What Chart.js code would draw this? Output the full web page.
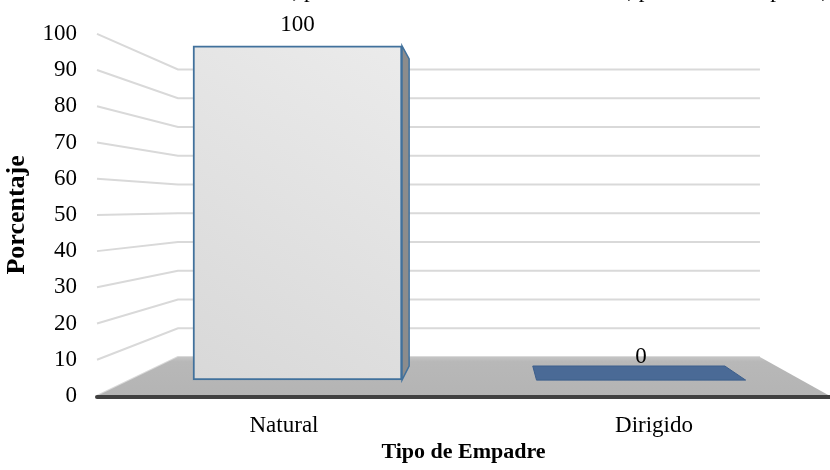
<!DOCTYPE html>
<html>
<head>
<meta charset="utf-8">
<script src="https://cdn.jsdelivr.net/npm/chart.js@4.4.1/dist/chart.umd.min.js"></script>
<style>
  html, body { margin: 0; padding: 0; background: #ffffff; }
  canvas { display: block; }
</style>
</head>
<body>
<canvas id="chart" width="830" height="470"></canvas>
<script>
// Datos del gráfico
const CATEGORIES = ['Natural', 'Dirigido'];
const VALUES = [100, 0];
const Y_TICKS = [0, 10, 20, 30, 40, 50, 60, 70, 80, 90, 100];
const CUT_TITLE = 'durante el Gran Mandato, provincia de Cotacachi – Imbabura, período de empadre, 2016';

const SERIF = '"Liberation Serif", "Times New Roman", serif';

// Perspectiva 3D (punto de fuga y profundidades)
const VP = { x: 490, y: 207 };
const WALL_DEPTH = 0.206;
const BAR_DEPTH = 0.081;
const BORDER_BLUE = '#41719c';

function project(p, k) {
    return { x: p.x + (VP.x - p.x) * k, y: p.y + (VP.y - p.y) * k };
}

function poly(ctx, pts) {
    ctx.beginPath();
    ctx.moveTo(pts[0].x, pts[0].y);
    for (let i = 1; i < pts.length; i++) ctx.lineTo(pts[i].x, pts[i].y);
    ctx.closePath();
}

const box3d = {
    id: 'box3d',
    beforeDatasetsDraw(chart) {
        const { ctx, chartArea: a, scales } = chart;
        const y = scales.y;
        ctx.save();

        // líneas de la pared y del fondo
        ctx.strokeStyle = '#d9d9d9';
        ctx.lineWidth = 2;
        Y_TICKS.forEach(v => {
            const fy = y.getPixelForValue(v);
            const b = project({ x: a.left, y: fy }, WALL_DEPTH);
            const br = project({ x: a.right, y: fy }, WALL_DEPTH);
            ctx.beginPath();
            ctx.moveTo(a.left, fy);
            ctx.lineTo(b.x, b.y);
            ctx.lineTo(br.x, br.y);
            ctx.stroke();
        });

        // piso
        const y0 = y.getPixelForValue(0);
        const fl = { x: a.left, y: y0 }, fr = { x: a.right, y: y0 };
        const bl = project(fl, WALL_DEPTH), br = project(fr, WALL_DEPTH);
        const g = ctx.createLinearGradient(0, bl.y, 0, y0);
        g.addColorStop(0, '#c4c4c4');
        g.addColorStop(0.12, '#b8b8b8');
        g.addColorStop(1, '#b4b4b4');
        ctx.fillStyle = g;
        poly(ctx, [fl, fr, br, bl]);
        ctx.fill();

        // borde frontal del piso
        ctx.strokeStyle = '#404040';
        ctx.lineWidth = 4;
        ctx.lineCap = 'round';
        ctx.beginPath();
        ctx.moveTo(a.left, y0 + 1);
        ctx.lineTo(a.right, y0 + 1);
        ctx.stroke();
        ctx.restore();
    },
    afterDatasetsDraw(chart) {
        const { ctx } = chart;
        const meta = chart.getDatasetMeta(0);
        ctx.save();
        meta.data.forEach((el, i) => {
            const p = el.getProps(['x', 'y', 'base', 'width'], true);
            const left = p.x - p.width / 2, right = p.x + p.width / 2;
            const top = p.y, base = p.base;
            const tr = project({ x: right, y: top }, BAR_DEPTH);
            const tl = project({ x: left, y: top }, BAR_DEPTH);

            // cara lateral
            if (base - top > 1) {
                const brp = project({ x: right, y: base }, BAR_DEPTH);
                poly(ctx, [{ x: right, y: top }, tr, brp, { x: right, y: base }]);
                ctx.fillStyle = '#8c8c8c';
                ctx.fill();
                ctx.strokeStyle = BORDER_BLUE;
                ctx.lineWidth = 1.5;
                ctx.stroke();
            }
            // cara superior (solo visible bajo el horizonte)
            let labelY = top - 15;
            if (top > VP.y) {
                poly(ctx, [{ x: left, y: top }, { x: right, y: top }, tr, tl]);
                ctx.fillStyle = '#4a6a96';
                ctx.fill();
                ctx.strokeStyle = '#3d5f8c';
                ctx.lineWidth = 1;
                ctx.stroke();
                labelY = tr.y - 3;
            }

            // etiqueta de valor
            ctx.fillStyle = '#000000';
            ctx.font = '23px ' + SERIF;
            ctx.textAlign = 'center';
            ctx.textBaseline = 'alphabetic';
            ctx.fillText(String(VALUES[i]), p.x, labelY);
        });
        ctx.restore();
    },
    afterDraw(chart) {
        // título cortado en el borde superior
        const { ctx } = chart;
        ctx.save();
        ctx.fillStyle = '#000000';
        ctx.font = '23px ' + SERIF;
        ctx.textAlign = 'left';
        ctx.textBaseline = 'alphabetic';
        ctx.fillText(CUT_TITLE, 62, -3);
        ctx.restore();
    }
};

Chart.defaults.font.family = SERIF;
Chart.defaults.color = '#000000';

const barData = CATEGORIES.map((c, i) => ({ x: i, y: VALUES[i] }));

new Chart(document.getElementById('chart').getContext('2d'), {
    type: 'bar',
    data: {
        datasets: [{
            data: barData,
            xAxisID: 'xb',
            yAxisID: 'yb',
            barThickness: 209,
            backgroundColor: function(c) {
                if (c.dataIndex === 1) return '#4a6a96';
                const a = c.chart.chartArea;
                if (!a) return '#e2e2e2';
                const g = c.chart.ctx.createLinearGradient(190, 380, 400, 45);
                g.addColorStop(0, '#d8d8d8');
                g.addColorStop(1, '#ebebeb');
                return g;
            },
            borderColor: BORDER_BLUE,
            borderWidth: [2, 0],
            borderSkipped: false
        }]
    },
    plugins: [box3d],
    options: {
        responsive: false,
        animation: false,
        layout: { padding: { top: 33, right: 0, left: 0, bottom: 0 } },
        plugins: {
            legend: { display: false },
            tooltip: { enabled: false }
        },
        scales: {
            x: {
                type: 'linear',
                offset: false,
                min: -0.5054,
                max: 1.4757,
                afterBuildTicks: axis => { axis.ticks = CATEGORIES.map((c, i) => ({ value: i })); },
                afterFit: s => { s.height = 74; },
                grid: { display: false, drawTicks: false, offset: false },
                border: { display: false },
                ticks: {
                    autoSkip: false,
                    maxRotation: 0,
                    padding: 16,
                    font: { size: 23 },
                    callback: v => CATEGORIES[v]
                },
                title: {
                    display: true,
                    text: 'Tipo de Empadre',
                    font: { size: 22, weight: 'bold' },
                    padding: { top: 4, bottom: 4 }
                }
            },
            y: {
                type: 'linear',
                position: 'left',
                min: 0,
                max: 100,
                afterFit: s => { s.width = 97; },
                grid: { display: false, drawTicks: false },
                border: { display: false },
                ticks: { stepSize: 10, padding: 20, font: { size: 23 } },
                title: {
                    display: true,
                    text: 'Porcentaje',
                    font: { size: 26, weight: 'bold' },
                    padding: { top: 2, bottom: 4 }
                }
            },
            xb: { type: 'linear', display: false, offset: false, grid: { offset: false }, min: -0.5837, max: 1.5502 },
            yb: { type: 'linear', display: false, position: 'left', min: -4.78, max: 103.58 }
        }
    }
});
</script>
</body>
</html>
